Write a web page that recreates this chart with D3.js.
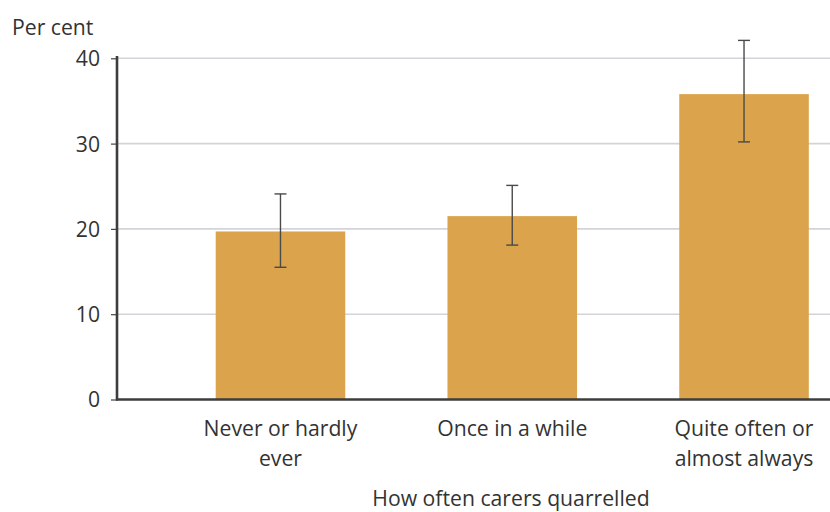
<!DOCTYPE html>
<html><head><meta charset="utf-8">
<script src="https://cdn.jsdelivr.net/npm/d3@7"></script>
<style>body{margin:0;background:#fff;} svg{display:block;}</style>
</head><body>
<svg id="c" width="830" height="512"></svg>
<script>
const categories = [["Never or hardly", "ever"], ["Once in a while"], ["Quite often or", "almost always"]];
const values = [19.7, 21.5, 35.8];
const lower = [15.5, 18.1, 30.2];
const upper = [24.1, 25.1, 42.1];
const yTicks = [0, 10, 20, 30, 40];
const yTitle = "Per cent";
const xTitle = "How often carers quarrelled";

const svg = d3.select("#c");
const font = "'Open Sans', sans-serif";
const fs = 21.2;
const x0 = 117, x1 = 830, yBase = 399.5;
const y = d3.scaleLinear().domain([0, 40]).range([yBase, 58.3]);
const x = d3.scaleBand().domain(d3.range(values.length)).range([164.7, 859.8]).paddingInner(0.441).paddingOuter(0.22);

// gridlines
svg.append("g").selectAll("line").data(yTicks.filter(d => d > 0)).join("line")
  .attr("x1", x0 + 1).attr("x2", x1).attr("y1", d => y(d)).attr("y2", d => y(d))
  .attr("stroke", "#d3d3da").attr("stroke-width", 1.6);

// y axis
const ya = svg.append("g").attr("transform", `translate(${x0},0)`)
  .call(d3.axisLeft(y).tickValues(yTicks).tickSize(6).tickPadding(11).tickFormat(d3.format("d")));
ya.select(".domain").remove();
ya.selectAll(".tick line").attr("stroke", "#444").attr("stroke-width", 1.2);
ya.selectAll(".tick text").attr("font-family", font).attr("font-size", fs).attr("fill", "#333").attr("dy", "0.35em");

// bars
svg.append("g").selectAll("rect").data(values).join("rect")
  .attr("x", (d, i) => x(i)).attr("width", x.bandwidth())
  .attr("y", d => y(d)).attr("height", d => yBase - y(d))
  .attr("fill", "#dba44c");

// error bars
const eb = svg.append("g").attr("stroke", "#4a4a4a").attr("stroke-width", 1.4);
values.forEach((v, i) => {
  const cx = x(i) + x.bandwidth() / 2;
  eb.append("line").attr("x1", cx).attr("x2", cx).attr("y1", y(lower[i])).attr("y2", y(upper[i]));
  eb.append("line").attr("x1", cx - 6).attr("x2", cx + 6).attr("y1", y(lower[i])).attr("y2", y(lower[i]));
  eb.append("line").attr("x1", cx - 6).attr("x2", cx + 6).attr("y1", y(upper[i])).attr("y2", y(upper[i]));
});

// axis lines
svg.append("line").attr("x1", x0).attr("x2", x0).attr("y1", 56).attr("y2", yBase + 1)
  .attr("stroke", "#3d3d3d").attr("stroke-width", 2.6);
svg.append("line").attr("x1", x0 - 1).attr("x2", x1).attr("y1", yBase).attr("y2", yBase)
  .attr("stroke", "#3d3d3d").attr("stroke-width", 2.6);

// category labels
const cl = svg.append("g").attr("font-family", font).attr("font-size", fs).attr("fill", "#333").attr("text-anchor", "middle");
categories.forEach((lines, i) => {
  const cx = x(i) + x.bandwidth() / 2;
  const t = cl.append("text").attr("x", cx).attr("y", 436);
  lines.forEach((s, j) => t.append("tspan").attr("x", cx).attr("dy", j === 0 ? 0 : 30).text(s));
});

// titles
svg.append("text").attr("x", 12).attr("y", 35).attr("font-family", font).attr("font-size", fs).attr("fill", "#333").text(yTitle);
svg.append("text").attr("x", 511).attr("y", 506).attr("text-anchor", "middle").attr("font-family", font).attr("font-size", fs).attr("fill", "#333").text(xTitle);
</script>
</body></html>
